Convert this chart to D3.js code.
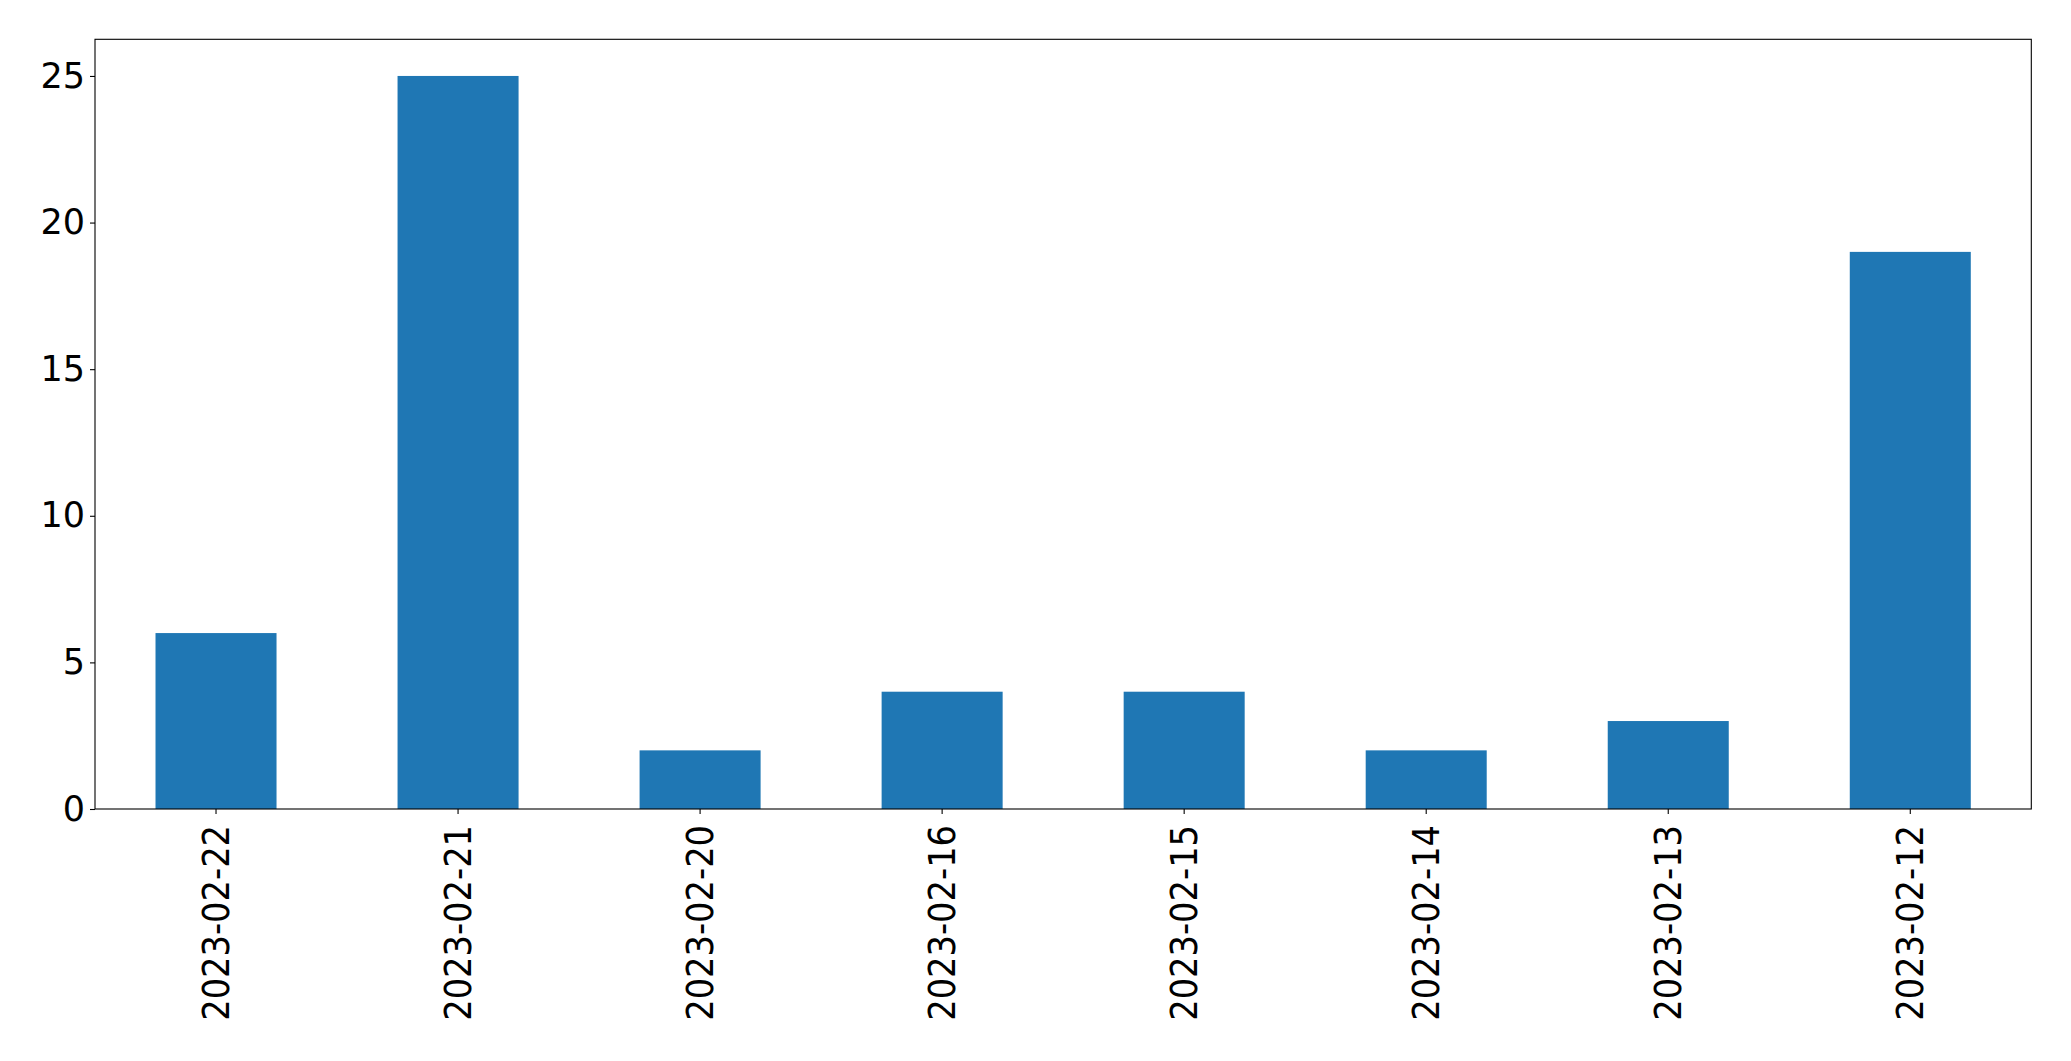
<!DOCTYPE html>
<html>
<head>
<meta charset="utf-8">
<script src="https://cdn.jsdelivr.net/npm/d3@7"></script>
<style>
  html, body { margin: 0; padding: 0; background: #fff; }
  svg { display: block; }
  text { font-family: "DejaVu Sans", sans-serif; fill: #000; }
</style>
</head>
<body>
<svg id="chart" width="2071" height="1061"></svg>
<script>
const categories = ["2023-02-22", "2023-02-21", "2023-02-20", "2023-02-16", "2023-02-15", "2023-02-14", "2023-02-13", "2023-02-12"];
const values = [6, 25, 2, 4, 4, 2, 3, 19];
const yTicks = [0, 5, 10, 15, 20, 25];

const W = 2071, H = 1061;
const margin = { left: 95, right: 2071 - 2031.3, top: 39.3, bottom: 1061 - 809 };
const svg = d3.select("#chart");
const iw = W - margin.left - margin.right;
const ih = H - margin.top - margin.bottom;
const g = svg.append("g").attr("transform", `translate(${margin.left},${margin.top})`);

const x = d3.scaleBand().domain(categories).range([0, iw]).paddingInner(0.5).paddingOuter(0.25);
const y = d3.scaleLinear().domain([0, 25 * 1.05]).range([ih, 0]);

g.selectAll("rect.bar").data(values).enter().append("rect")
  .attr("class", "bar")
  .attr("x", (d, i) => x(categories[i]))
  .attr("width", x.bandwidth())
  .attr("y", d => y(d))
  .attr("height", d => y(0) - y(d))
  .attr("fill", "#1f77b4");

const yAxis = g.append("g").call(d3.axisLeft(y).tickValues(yTicks).tickFormat(d3.format("d")).tickSize(5).tickPadding(5));
yAxis.select(".domain").remove();
yAxis.selectAll("text").style("font-size", "35px").style("font-family", "DejaVu Sans");
yAxis.selectAll("line").attr("stroke", "#000").attr("stroke-width", 1.1);

const xAxis = g.append("g").attr("transform", `translate(0,${ih})`)
  .call(d3.axisBottom(x).tickSize(5).tickSizeOuter(0));
xAxis.select(".domain").remove();
xAxis.selectAll("line").attr("stroke", "#000").attr("stroke-width", 1.1);
xAxis.selectAll("text")
  .style("font-size", "33.7px").style("font-family", "DejaVu Sans")
  .attr("text-anchor", "end")
  .attr("transform", "rotate(-90) scale(1,1.08)")
  .attr("x", -16)
  .attr("y", 0)
  .attr("dy", "0.35em");

g.append("rect").attr("x", 0).attr("y", 0).attr("width", iw).attr("height", ih)
  .attr("fill", "none").attr("stroke", "#000").attr("stroke-width", 1.1);
</script>
</body>
</html>
